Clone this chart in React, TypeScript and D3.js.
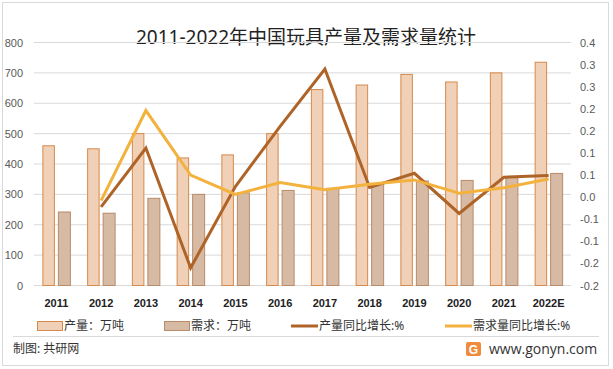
import React from "react";
import * as d3 from "d3";

const years = ["2011","2012","2013","2014","2015","2016","2017","2018","2019","2020","2021","2022E"];
const production = [460, 450, 500, 420, 430, 500, 645, 660, 695, 670, 700, 735];
const demand = [242, 238, 287, 300, 305, 313, 320, 333, 344, 346, 355, 369];
const prodGrowth: (number | null)[] = [null, -0.022, 0.111, -0.16, 0.024, 0.16, 0.29, 0.022, 0.054, -0.037, 0.045, 0.049];
const demandGrowth: (number | null)[] = [null, -0.008, 0.196, 0.05, 0.006, 0.033, 0.017, 0.029, 0.039, 0.009, 0.021, 0.041];
const leftTicks = [0, 100, 200, 300, 400, 500, 600, 700, 800];
const rightTicks = [0.35, 0.3, 0.25, 0.2, 0.15, 0.1, 0.05, 0, -0.05, -0.1, -0.15, -0.2];
const rightTickLabels = ["0.4", "0.3", "0.3", "0.2", "0.2", "0.1", "0.1", "0.0", "-0.1", "-0.1", "-0.2", "-0.2"];

const W = 613, H = 369;
const cjk = "'Noto Sans', 'Noto Sans CJK SC', sans-serif";
const num = "'Liberation Sans', 'DejaVu Sans', sans-serif";

export default function App() {
  const x = d3.scaleBand<string>().domain(years).range([34, 571]);
  const yL = d3.scaleLinear().domain([0, 800]).range([285.5, 42.5]);
  const yR = d3.scaleLinear().domain([-0.2, 0.35]).range([285.5, 42.5]);
  const cx = (y: string) => (x(y) as number) + x.bandwidth() / 2;

  const lineGen = d3.line<{ y: string; v: number | null }>()
    .defined(d => d.v !== null)
    .x(d => cx(d.y))
    .y(d => yR(d.v as number));

  const prodLine = lineGen(years.map((y, i) => ({ y, v: prodGrowth[i] })));
  const demLine = lineGen(years.map((y, i) => ({ y, v: demandGrowth[i] })));

  const prodFill = "#F0D0B6", prodStroke = "#D68A4C";
  const demFill = "#D7BAA3", demStroke = "#B88B6A";
  const brown = "#AE6428", yellow = "#F3B23D";

  return (
    <div style={{ position: "absolute", left: 0, top: 0 }}>
      <svg width={W} height={H} style={{ display: "block", background: "#fff" }}>
        <rect x={2.5} y={2.5} width={606} height={363} fill="#fff" stroke="#d9d9d9" />
        <text x={306} y={44} textAnchor="middle" fontFamily={cjk} fontSize={19} fill="#222">
          2011-2022年中国玩具产量及需求量统计
        </text>
        {leftTicks.map(t => (
          <g key={"l" + t}>
            <line x1={34} x2={571} y1={yL(t)} y2={yL(t)} stroke="#d9d9d9" strokeWidth={1} />
            <text x={23} y={yL(t) + 4} textAnchor="end" fontFamily={num} fontSize={11} fill="#595959">{t}</text>
          </g>
        ))}
        {rightTicks.map((t, i) => (
          <text key={"r" + i} x={580} y={yR(t) + 4} textAnchor="start" fontFamily={num} fontSize={11} fill="#595959">
            {rightTickLabels[i]}
          </text>
        ))}
        {years.map((y, i) => (
          <g key={"b" + y}>
            <rect x={cx(y) - 13.5} y={yL(production[i])} width={11.5} height={yL(0) - yL(production[i])}
              fill={prodFill} stroke={prodStroke} strokeWidth={1} />
            <rect x={cx(y) + 2} y={yL(demand[i])} width={12} height={yL(0) - yL(demand[i])}
              fill={demFill} stroke={demStroke} strokeWidth={1} />
          </g>
        ))}
        <path d={prodLine || ""} fill="none" stroke={brown} strokeWidth={3} />
        <path d={demLine || ""} fill="none" stroke={yellow} strokeWidth={3} />
        {years.map(y => (
          <text key={"x" + y} x={cx(y)} y={307} textAnchor="middle" fontFamily={num} fontWeight="bold" fontSize={11} fill="#222">{y}</text>
        ))}
        <g fontFamily={cjk} fontSize={12} fill="#333">
          <rect x={37.5} y={321.5} width={25} height={9} fill={prodFill} stroke={prodStroke} />
          <text x={64} y={330}>产量：万吨</text>
          <rect x={164.5} y={321.5} width={25} height={9} fill={demFill} stroke={demStroke} />
          <text x={191} y={330}>需求：万吨</text>
          <line x1={291} x2={318} y1={326} y2={326} stroke={brown} strokeWidth={3} />
          <text x={319} y={330}>产量同比增长:%</text>
          <line x1={445} x2={472} y1={326} y2={326} stroke={yellow} strokeWidth={3} />
          <text x={473} y={330}>需求量同比增长:%</text>
        </g>
        <line x1={13} x2={599} y1={336.5} y2={336.5} stroke="#d9d9d9" />
        <text x={13} y={353} fontFamily={cjk} fontSize={12} fill="#333">制图: 共研网</text>
        <g>
          <rect x={466} y={342} width={15} height={14} rx={2} fill="#F08A3C" />
          <text x={473.5} y={353.5} textAnchor="middle" fontFamily={num} fontWeight="bold" fontSize={12} fill="#fff">G</text>
        </g>
        <text x={489} y={354} fontFamily={"'Open Sans', 'Noto Sans', sans-serif"} fontSize={14} fill="#333">www.gonyn.com</text>
      </svg>
    </div>
  );
}
